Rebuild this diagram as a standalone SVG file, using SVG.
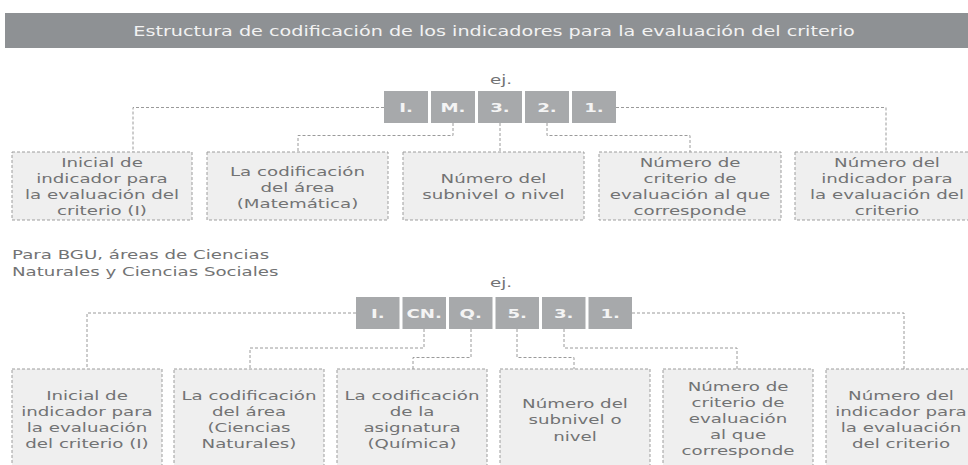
<svg xmlns="http://www.w3.org/2000/svg" width="968" height="465" viewBox="0 0 968 465">
<style>
.bg{fill:#ffffff}
.bar{fill:#8e9194}
.title{font-family:"DejaVu Sans",sans-serif;font-size:14px;fill:#f2f2f2;text-anchor:middle}
.t{font-family:"DejaVu Sans",sans-serif;font-size:13px;fill:#727374;text-anchor:middle}
.sub{font-family:"DejaVu Sans",sans-serif;font-size:13px;fill:#727374;text-anchor:start}
.code{fill:#a7a9ab}
.ct{font-family:"DejaVu Sans",sans-serif;font-size:13px;font-weight:bold;fill:#f4f4f4;text-anchor:middle}
.box{fill:#efefef;stroke:#9d9d9d;stroke-width:1;stroke-dasharray:3 2}
.conn{fill:none;stroke:#9a9a9a;stroke-width:1;stroke-dasharray:3 2}
</style>
<rect class="bg" x="0" y="0" width="968" height="465"/>

<g id="title">
<rect class="bar" x="5" y="13" width="963" height="35"/>
<g transform="translate(494,0) scale(1.37,1)"><text class="title" x="0" y="36">Estructura de codificación de los indicadores para la evaluación del criterio</text></g>
</g>

<g id="connectors">
<path class="conn" d="M384,107.5 H133 V152"/>
<path class="conn" d="M453,123 V135.5 H298 V152"/>
<path class="conn" d="M500,123 V152"/>
<path class="conn" d="M547,123 V135.5 H690 V152"/>
<path class="conn" d="M616,107.5 H886 V152"/>
<path class="conn" d="M356,313 H87 V369"/>
<path class="conn" d="M424,329 V348 H250 V369"/>
<path class="conn" d="M471,329 V357.5 H413 V369"/>
<path class="conn" d="M517,329 V357.5 H574 V369"/>
<path class="conn" d="M564,329 V348 H737 V369"/>
<path class="conn" d="M632,313 H904 V369"/>
</g>

<g id="ej1"><g transform="translate(501,0) scale(1.4,1)"><text class="t" x="0" y="84.5">ej.</text></g></g>
<g id="code1">
<rect class="code" x="384" y="91" width="44" height="32"/>
<rect class="code" x="431" y="91" width="44" height="32"/>
<rect class="code" x="478" y="91" width="44" height="32"/>
<rect class="code" x="525" y="91" width="44" height="32"/>
<rect class="code" x="572" y="91" width="44" height="32"/>
<g transform="translate(406,0) scale(1.4,1)"><text class="ct" x="0" y="112">I.</text></g>
<g transform="translate(453,0) scale(1.4,1)"><text class="ct" x="0" y="112">M.</text></g>
<g transform="translate(500,0) scale(1.4,1)"><text class="ct" x="0" y="112">3.</text></g>
<g transform="translate(547,0) scale(1.4,1)"><text class="ct" x="0" y="112">2.</text></g>
<g transform="translate(594,0) scale(1.4,1)"><text class="ct" x="0" y="112">1.</text></g>
</g>

<g id="top1">
<rect class="box" x="12" y="152" width="180" height="68"/>
<g transform="translate(102,0) scale(1.4,1)">
<text class="t" x="0" y="167.5">Inicial de</text>
<text class="t" x="0" y="183.5">indicador para</text>
<text class="t" x="0" y="199.5">la evaluación del</text>
<text class="t" x="0" y="215.5">criterio (I)</text>
</g>
</g>
<g id="top2">
<rect class="box" x="207" y="152" width="181" height="68"/>
<g transform="translate(297.5,0) scale(1.4,1)">
<text class="t" x="0" y="176">La codificación</text>
<text class="t" x="0" y="192">del área</text>
<text class="t" x="0" y="208">(Matemática)</text>
</g>
</g>
<g id="top3">
<rect class="box" x="403" y="152" width="181" height="68"/>
<g transform="translate(493.5,0) scale(1.4,1)">
<text class="t" x="0" y="183">Número del</text>
<text class="t" x="0" y="199.5">subnivel o nivel</text>
</g>
</g>
<g id="top4">
<rect class="box" x="599" y="152" width="182" height="68"/>
<g transform="translate(690,0) scale(1.4,1)">
<text class="t" x="0" y="167.5">Número de</text>
<text class="t" x="0" y="183.5">criterio de</text>
<text class="t" x="0" y="199.5">evaluación al que</text>
<text class="t" x="0" y="215.5">corresponde</text>
</g>
</g>
<g id="top5">
<rect class="box" x="795" y="152" width="181" height="68"/>
<g transform="translate(887,0) scale(1.4,1)">
<text class="t" x="0" y="167.5">Número del</text>
<text class="t" x="0" y="183.5">indicador para</text>
<text class="t" x="0" y="199.5">la evaluación del</text>
<text class="t" x="0" y="215.5">criterio</text>
</g>
</g>

<g id="subtitle">
<g transform="translate(12,0) scale(1.4,1)">
<text class="sub" x="0" y="259.5">Para BGU, áreas de Ciencias</text>
<text class="sub" x="0" y="276.5">Naturales y Ciencias Sociales</text>
</g>
</g>

<g id="ej2"><g transform="translate(501,0) scale(1.4,1)"><text class="t" x="0" y="287.5">ej.</text></g></g>
<g id="code2">
<rect class="code" x="356" y="297" width="43.5" height="32"/>
<rect class="code" x="402.5" y="297" width="43.5" height="32"/>
<rect class="code" x="449" y="297" width="43.5" height="32"/>
<rect class="code" x="495.5" y="297" width="43.5" height="32"/>
<rect class="code" x="542" y="297" width="43.5" height="32"/>
<rect class="code" x="588.5" y="297" width="43.5" height="32"/>
<g transform="translate(377.75,0) scale(1.4,1)"><text class="ct" x="0" y="318">I.</text></g>
<g transform="translate(424.25,0) scale(1.4,1)"><text class="ct" x="0" y="318">CN.</text></g>
<g transform="translate(470.75,0) scale(1.4,1)"><text class="ct" x="0" y="318">Q.</text></g>
<g transform="translate(517.25,0) scale(1.4,1)"><text class="ct" x="0" y="318">5.</text></g>
<g transform="translate(563.75,0) scale(1.4,1)"><text class="ct" x="0" y="318">3.</text></g>
<g transform="translate(610.25,0) scale(1.4,1)"><text class="ct" x="0" y="318">1.</text></g>
</g>

<g id="bot1">
<rect class="box" x="12" y="369" width="150" height="102"/>
<g transform="translate(87,0) scale(1.4,1)">
<text class="t" x="0" y="400.5">Inicial de</text>
<text class="t" x="0" y="416.5">indicador para</text>
<text class="t" x="0" y="432.5">la evaluación</text>
<text class="t" x="0" y="448.5">del criterio (I)</text>
</g>
</g>
<g id="bot2">
<rect class="box" x="174" y="369" width="150" height="102"/>
<g transform="translate(249,0) scale(1.4,1)">
<text class="t" x="0" y="400.5">La codificación</text>
<text class="t" x="0" y="416.5">del área</text>
<text class="t" x="0" y="432.5">(Ciencias</text>
<text class="t" x="0" y="448.5">Naturales)</text>
</g>
</g>
<g id="bot3">
<rect class="box" x="337" y="369" width="150" height="102"/>
<g transform="translate(412,0) scale(1.4,1)">
<text class="t" x="0" y="400.5">La codificación</text>
<text class="t" x="0" y="416.5">de la</text>
<text class="t" x="0" y="432.5">asignatura</text>
<text class="t" x="0" y="448.5">(Química)</text>
</g>
</g>
<g id="bot4">
<rect class="box" x="500" y="369" width="150" height="102"/>
<g transform="translate(575,0) scale(1.4,1)">
<text class="t" x="0" y="408">Número del</text>
<text class="t" x="0" y="424.5">subnivel o</text>
<text class="t" x="0" y="441">nivel</text>
</g>
</g>
<g id="bot5">
<rect class="box" x="663" y="369" width="150" height="102"/>
<g transform="translate(738,0) scale(1.4,1)">
<text class="t" x="0" y="391">Número de</text>
<text class="t" x="0" y="407">criterio de</text>
<text class="t" x="0" y="423">evaluación</text>
<text class="t" x="0" y="439">al que</text>
<text class="t" x="0" y="455">corresponde</text>
</g>
</g>
<g id="bot6">
<rect class="box" x="826" y="369" width="150" height="102"/>
<g transform="translate(901,0) scale(1.4,1)">
<text class="t" x="0" y="400.5">Número del</text>
<text class="t" x="0" y="416.5">indicador para</text>
<text class="t" x="0" y="432.5">la evaluación</text>
<text class="t" x="0" y="448.5">del criterio</text>
</g>
</g>
</svg>
